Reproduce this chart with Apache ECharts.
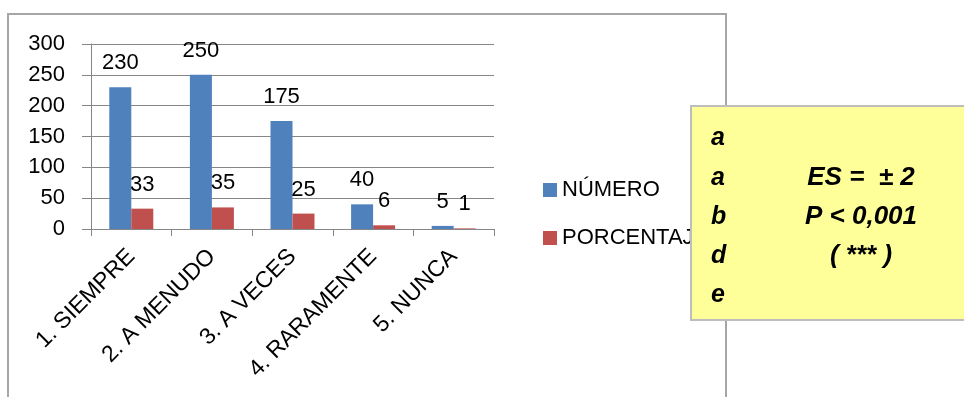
<!DOCTYPE html>
<html>
<head>
<meta charset="utf-8">
<script src="https://cdn.jsdelivr.net/npm/echarts@6/dist/echarts.min.js"></script>
<style>
html,body{margin:0;padding:0;background:#fff;}
#chart{width:964px;height:397px;}
</style>
</head>
<body>
<div id="chart"></div>
<script>
const categories = ['1. SIEMPRE', '2. A MENUDO', '3. A VECES', '4. RARAMENTE', '5. NUNCA'];
const numero = [230, 250, 175, 40, 5];
const porcentaje = [33, 35, 25, 6, 1];
const seriesNames = ['NÚMERO', 'PORCENTAJE'];
const boxLetters = ['a', 'a', 'b', 'd', 'e'];
const boxLines = ['', 'ES =  ± 2', 'P < 0,001', '( *** )', ''];

const FONT = '"Liberation Sans", Arial, sans-serif';
const chart = echarts.init(document.getElementById('chart'), null, {renderer: 'canvas'});

const boxGraphics = [
  {type: 'rect', z: 100, shape: {x: 8, y: 14, width: 718, height: 400},
   style: {fill: 'none', stroke: '#a6a6a6', lineWidth: 2}},
  {type: 'rect', z: 110, shape: {x: 691, y: 106, width: 290, height: 214},
   style: {fill: '#ffff99', stroke: '#bdbdbd', lineWidth: 2}}
];
const rowY = [138, 178, 217, 256, 295];
boxLetters.forEach((t, i) => {
  boxGraphics.push({type: 'text', z: 120, x: 711, y: rowY[i],
    style: {text: t, font: 'italic bold 25px ' + FONT, fill: '#000', textAlign: 'left', textVerticalAlign: 'middle'}});
});
boxLines.forEach((t, i) => {
  if (!t) return;
  boxGraphics.push({type: 'text', z: 120, x: 861, y: rowY[i],
    style: {text: t, font: 'italic bold 26px ' + FONT, fill: '#000', textAlign: 'center', textVerticalAlign: 'middle'}});
});

chart.setOption({
  animation: false,
  textStyle: {fontFamily: FONT},
  grid: {left: 91, right: 470, top: 44, bottom: 168, containLabel: false},
  legend: {
    orient: 'vertical', left: 538, top: 174,
    itemWidth: 14, itemHeight: 14, itemGap: 26,
    icon: 'rect',
    textStyle: {fontSize: 22, color: '#000', fontFamily: FONT},
    data: seriesNames
  },
  xAxis: {
    type: 'category', data: categories,
    axisLine: {lineStyle: {color: '#868686', width: 1}},
    axisTick: {show: true, length: 7, lineStyle: {color: '#868686'}},
    axisLabel: {rotate: 45, margin: 24, fontSize: 23, color: '#000', fontFamily: FONT, interval: 0}
  },
  yAxis: {
    type: 'value', min: 0, max: 300, interval: 50,
    axisLine: {show: true, lineStyle: {color: '#868686'}},
    axisTick: {show: true, length: 9, lineStyle: {color: '#868686'}},
    splitLine: {lineStyle: {color: '#868686', width: 1}},
    axisLabel: {fontSize: 22, color: '#000', margin: 26, fontFamily: FONT}
  },
  series: [
    {name: seriesNames[0], type: 'bar', data: numero, barWidth: 22, barGap: 0,
     itemStyle: {color: '#4f81bd'},
     label: {show: true, position: 'top', distance: 13, fontSize: 22, color: '#000', fontFamily: FONT}},
    {name: seriesNames[1], type: 'bar', data: porcentaje, barWidth: 22, barGap: 0,
     itemStyle: {color: '#c0504d'},
     label: {show: true, position: 'top', distance: 13, fontSize: 22, color: '#000', fontFamily: FONT}}
  ],
  graphic: boxGraphics
});
</script>
</body>
</html>
